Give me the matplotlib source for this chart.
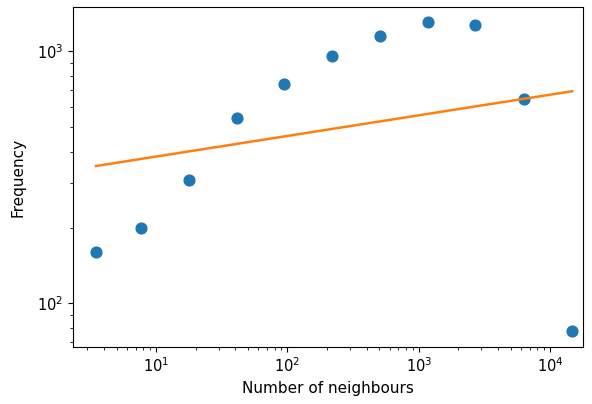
import matplotlib
matplotlib.use("Agg")
import matplotlib.pyplot as plt

# log-binned neighbour counts
neighbours = [3.49, 7.7, 17.7, 41.3, 94.2, 220, 510, 1180, 2670, 6300, 14700]
frequency = [160, 199, 308, 542, 740, 958, 1153, 1310, 1275, 650, 77.6]

# power-law fit, end points
fit_x = [3.49, 14700]
fit_y = [351, 695]

fig = plt.figure(figsize=(5.92, 4.04), dpi=100)
ax = fig.add_axes([0.1233, 0.1418, 0.8615, 0.8402])

ax.scatter(neighbours, frequency, s=60, color="#1f77b4")
ax.plot(fit_x, fit_y, color="#ff7f0e", linewidth=1.8)

ax.set_xscale("log")
ax.set_yscale("log")
ax.set_xlim(2.33, 17800)
ax.set_ylim(67.3, 1497)

ax.set_xlabel("Number of neighbours", fontsize=11)
ax.set_ylabel("Frequency", fontsize=11, labelpad=8)
ax.tick_params(labelsize=10.5)

fig.savefig("out.png", dpi=100)
